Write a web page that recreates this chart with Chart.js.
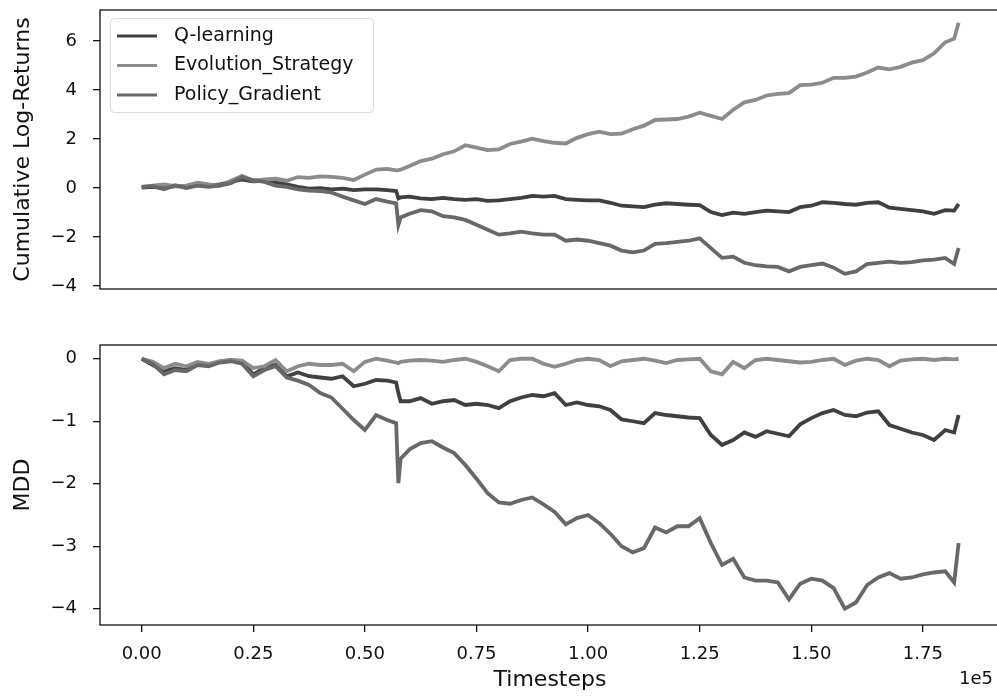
<!DOCTYPE html>
<html>
<head>
<meta charset="utf-8">
<script src="https://cdn.jsdelivr.net/npm/chart.js@4.4.0/dist/chart.umd.min.js"></script>
<style>
  html, body { margin: 0; padding: 0; background: #fff; }
  #wrap { position: relative; width: 997px; height: 700px; overflow: hidden; }
  #returnsChart { position: absolute; left: 0; top: 0; }
  #mddChart { position: absolute; left: 0; top: 300px; }
</style>
</head>
<body>
<div id="wrap">
  <canvas id="returnsChart" width="1001" height="300"></canvas>
  <canvas id="mddChart" width="1001" height="400"></canvas>
</div>
<script>
// Timesteps (x values), extra samples around the drop near 57.5k and at the end
const steps = [
  0, 2500, 5000, 7500, 10000, 12500, 15000, 17500, 20000, 22500,
  25000, 27500, 30000, 32500, 35000, 37500, 40000, 42500, 45000, 47500,
  50000, 52500, 55000, 57000, 57500, 58000, 60000, 62500, 65000, 67500,
  70000, 72500, 75000, 77500, 80000, 82500, 85000, 87500, 90000, 92500,
  95000, 97500, 100000, 102500, 105000, 107500, 110000, 112500, 115000, 117500,
  120000, 122500, 125000, 127500, 130000, 132500, 135000, 137500, 140000, 142500,
  145000, 147500, 150000, 152500, 155000, 157500, 160000, 162500, 165000, 167500,
  170000, 172500, 175000, 177500, 180000, 182000, 183000
];

// Cumulative log-returns
const qReturns = [
  0.02, 0.05, 0.0, 0.08, 0.05, 0.15, 0.1, 0.15, 0.25, 0.35,
  0.28, 0.3, 0.22, 0.15, 0.05, -0.02, 0.0, -0.05, -0.02, -0.08,
  -0.05, -0.05, -0.08, -0.12, -0.42, -0.38, -0.35, -0.42, -0.45, -0.4,
  -0.45, -0.48, -0.45, -0.52, -0.5, -0.45, -0.4, -0.32, -0.35, -0.32,
  -0.45, -0.48, -0.5, -0.5, -0.6, -0.72, -0.75, -0.78, -0.68, -0.62,
  -0.65, -0.68, -0.7, -0.98, -1.1, -1.0, -1.05, -0.98, -0.92, -0.95,
  -0.98, -0.78, -0.72, -0.58, -0.6, -0.65, -0.68, -0.6, -0.58, -0.8,
  -0.85, -0.9, -0.95, -1.05, -0.9, -0.92, -0.65
];
const esReturns = [
  0.05, 0.1, 0.15, 0.08, 0.1, 0.22, 0.15, 0.1, 0.3, 0.5,
  0.3, 0.35, 0.38, 0.3, 0.45, 0.42, 0.48, 0.46, 0.42, 0.33,
  0.55, 0.75, 0.78, 0.72, 0.73, 0.75, 0.9, 1.1, 1.2, 1.38,
  1.5, 1.75, 1.65, 1.55, 1.58, 1.8, 1.9, 2.02, 1.92, 1.85,
  1.82, 2.05, 2.2, 2.3, 2.2, 2.22, 2.4, 2.55, 2.78, 2.8,
  2.82, 2.92, 3.08, 2.95, 2.82, 3.2, 3.5, 3.6, 3.78, 3.85,
  3.88, 4.2, 4.22, 4.3, 4.5, 4.5, 4.55, 4.72, 4.92, 4.85,
  4.95, 5.12, 5.22, 5.5, 5.95, 6.1, 6.75
];
const pgReturns = [
  0.05, 0.08, -0.05, 0.12, 0.0, 0.1, 0.05, 0.1, 0.2, 0.45,
  0.32, 0.25, 0.1, 0.05, -0.05, -0.1, -0.12, -0.18, -0.35, -0.5,
  -0.65, -0.45, -0.55, -0.62, -1.5, -1.2, -1.05, -0.9, -0.95, -1.15,
  -1.2, -1.3, -1.5, -1.7, -1.9, -1.85, -1.78, -1.85, -1.9, -1.9,
  -2.15, -2.1, -2.15, -2.25, -2.35, -2.55, -2.62, -2.55, -2.28, -2.25,
  -2.2, -2.15, -2.05, -2.45, -2.85, -2.8, -3.05, -3.15, -3.2, -3.22,
  -3.4, -3.22, -3.15, -3.08, -3.25, -3.5, -3.4, -3.1, -3.05, -3.0,
  -3.05, -3.02, -2.95, -2.92, -2.85, -3.1, -2.45
];

// Maximum drawdown
const qMdd = [
  0.0, -0.1, -0.2, -0.15, -0.18, -0.08, -0.1, -0.05, -0.02, -0.05,
  -0.25, -0.15, -0.1, -0.28, -0.22, -0.28, -0.3, -0.32, -0.28, -0.44,
  -0.4, -0.34, -0.35, -0.38, -0.55, -0.68, -0.68, -0.63, -0.72, -0.68,
  -0.66, -0.74, -0.72, -0.74, -0.79, -0.68, -0.62, -0.58, -0.6, -0.55,
  -0.74, -0.7, -0.74, -0.76, -0.82, -0.97, -1.0, -1.03, -0.87, -0.9,
  -0.92, -0.94, -0.95, -1.22, -1.38, -1.3, -1.18, -1.25, -1.16, -1.2,
  -1.24, -1.05, -0.95, -0.87, -0.82, -0.9, -0.92, -0.86, -0.84, -1.06,
  -1.12, -1.18, -1.22, -1.3, -1.14, -1.18, -0.9
];
const esMdd = [
  0.0, -0.05, -0.15, -0.08, -0.12, -0.05, -0.08, -0.04, -0.02, -0.03,
  -0.15, -0.12, -0.02, -0.2, -0.12, -0.08, -0.1, -0.1, -0.08, -0.2,
  -0.05, 0.0, -0.03, -0.06, -0.07, -0.05, -0.03, -0.02, -0.03, -0.05,
  -0.02, 0.0, -0.05, -0.12, -0.2, -0.02, 0.0, 0.0, -0.08, -0.13,
  -0.08, -0.02, 0.0, -0.02, -0.12, -0.04, -0.02, 0.0, -0.03, -0.07,
  -0.02, -0.01, 0.0, -0.2, -0.25, -0.05, -0.15, -0.02, 0.0, -0.02,
  -0.04, -0.06, -0.05, -0.02, 0.0, -0.1, -0.03, 0.0, -0.02, -0.12,
  -0.03, -0.01, 0.0, -0.02, 0.0, -0.01, 0.0
];
const pgMdd = [
  0.0, -0.08, -0.25, -0.18, -0.2, -0.1, -0.12, -0.06, -0.04, -0.08,
  -0.28, -0.18, -0.12, -0.3, -0.35, -0.42, -0.55, -0.62, -0.8, -0.98,
  -1.14, -0.9, -0.98, -1.03, -1.99, -1.6, -1.45, -1.35, -1.32, -1.42,
  -1.51, -1.7, -1.92, -2.15, -2.3, -2.32, -2.26, -2.22, -2.33, -2.45,
  -2.65, -2.55, -2.5, -2.63, -2.8, -3.0, -3.1, -3.03, -2.7, -2.78,
  -2.68, -2.68, -2.55, -2.95, -3.3, -3.2, -3.5, -3.55, -3.55, -3.58,
  -3.85, -3.6, -3.52, -3.55, -3.67, -4.0, -3.9, -3.62, -3.5, -3.43,
  -3.52, -3.5, -3.45, -3.42, -3.4, -3.58, -2.95
];

// Ticks
const returnTicks = [-4, -2, 0, 2, 4, 6];
const mddTicks = [-4, -3, -2, -1, 0];
const stepTicks = [0, 25000, 50000, 75000, 100000, 125000, 150000, 175000];
const stepTickLabels = ['0.00', '0.25', '0.50', '0.75', '1.00', '1.25', '1.50', '1.75'];

const seriesNames = ['Q-learning', 'Evolution_Strategy', 'Policy_Gradient'];
const seriesColors = ['#404040', '#8c8c8c', '#686868'];

const xMin = -9340;
const xMax = 192270;

Chart.defaults.font.family = '"DejaVu Sans", sans-serif';
Chart.defaults.color = '#111';

function toPoints(values) {
  return steps.map((s, i) => ({ x: s, y: values[i] }));
}

function makeDatasets(q, es, pg) {
  return [q, es, pg].map((vals, i) => ({
    label: seriesNames[i],
    data: toPoints(vals),
    borderColor: seriesColors[i],
    backgroundColor: seriesColors[i],
    borderWidth: 3.8,
    pointRadius: 0,
    tension: 0,
    order: 3 - i
  }));
}

function fmtMinus(v) {
  return v < 0 ? '\u2212' + Math.abs(v) : String(v);
}

function yScale(title, min, max, ticks) {
  return {
    type: 'linear',
    min: min,
    max: max,
    afterBuildTicks: s => { s.ticks = ticks.map(v => ({ value: v })); },
    afterFit: s => { s.width = 100; s.paddingTop = 0; s.paddingBottom = 0; },
    grid: { drawOnChartArea: false, drawTicks: true, tickLength: 7, color: '#111', lineWidth: 1.3 },
    border: { display: false },
    ticks: { padding: 16, font: { size: 18 }, color: '#111', callback: v => fmtMinus(v) },
    title: { display: true, text: title, font: { size: 22 }, color: '#111', padding: { top: 10, bottom: 0 } }
  };
}

// box around each plot area
const framePlugin = {
  id: 'frame',
  afterDatasetsDraw(chart) {
    const { ctx, chartArea: a } = chart;
    ctx.save();
    ctx.strokeStyle = '#111';
    ctx.lineWidth = 1.3;
    ctx.strokeRect(a.left, a.top, a.right - a.left, a.bottom - a.top);
    ctx.restore();
  }
};

// matplotlib style legend in the upper left corner
const boxLegendPlugin = {
  id: 'boxLegend',
  afterDraw(chart) {
    const ctx = chart.ctx;
    ctx.save();
    ctx.beginPath();
    ctx.roundRect(110.5, 18.5, 263, 94, 4);
    ctx.fillStyle = 'rgba(255,255,255,0.8)';
    ctx.fill();
    ctx.strokeStyle = '#d9d9d9';
    ctx.lineWidth = 1;
    ctx.stroke();
    ctx.font = '19px "DejaVu Sans"';
    ctx.textBaseline = 'middle';
    ctx.textAlign = 'left';
    chart.data.datasets.forEach((ds, i) => {
      const y = 36 + i * 29.5;
      ctx.strokeStyle = ds.borderColor;
      ctx.lineWidth = 3;
      ctx.beginPath();
      ctx.moveTo(117, y);
      ctx.lineTo(157, y);
      ctx.stroke();
      ctx.fillStyle = '#111';
      ctx.fillText(ds.label, 174, y);
    });
    ctx.restore();
  }
};

// "1e5" offset text of the shared x axis
const offsetTextPlugin = {
  id: 'offsetText',
  afterDraw(chart) {
    const ctx = chart.ctx;
    ctx.save();
    ctx.font = '18px "DejaVu Sans"';
    ctx.fillStyle = '#111';
    ctx.textAlign = 'right';
    ctx.textBaseline = 'middle';
    ctx.fillText('1e5', 993, 379);
    ctx.restore();
  }
};

const baseOptions = {
  responsive: false,
  animation: false,
  events: [],
  plugins: { legend: { display: false }, tooltip: { enabled: false } }
};

new Chart(document.getElementById('returnsChart'), {
  type: 'line',
  data: { datasets: makeDatasets(qReturns, esReturns, pgReturns) },
  options: {
    ...baseOptions,
    layout: { padding: { top: 10, bottom: 11, left: 0, right: 1 } },
    scales: {
      x: { type: 'linear', min: xMin, max: xMax, display: false },
      y: yScale('Cumulative Log-Returns', -4.12, 7.27, returnTicks)
    }
  },
  plugins: [framePlugin, boxLegendPlugin]
});

new Chart(document.getElementById('mddChart'), {
  type: 'line',
  data: { datasets: makeDatasets(qMdd, esMdd, pgMdd) },
  options: {
    ...baseOptions,
    layout: { padding: { top: 45, bottom: 0, left: 0, right: 1 } },
    scales: {
      x: {
        type: 'linear',
        min: xMin,
        max: xMax,
        afterBuildTicks: s => { s.ticks = stepTicks.map(v => ({ value: v })); },
        afterFit: s => { s.height = 75; s.paddingLeft = 0; s.paddingRight = 0; },
        grid: { drawOnChartArea: false, drawTicks: true, tickLength: 7, color: '#111', lineWidth: 1.3 },
        border: { display: false },
        ticks: {
          padding: 12,
          font: { size: 18 },
          color: '#111',
          maxRotation: 0,
          autoSkip: false,
          callback: (v, i) => stepTickLabels[i]
        },
        title: { display: true, text: 'Timesteps', font: { size: 22 }, color: '#111', padding: { top: 0, bottom: 7 } }
      },
      y: yScale('MDD', -4.26, 0.22, mddTicks)
    }
  },
  plugins: [framePlugin, offsetTextPlugin]
});
</script>
</body>
</html>
